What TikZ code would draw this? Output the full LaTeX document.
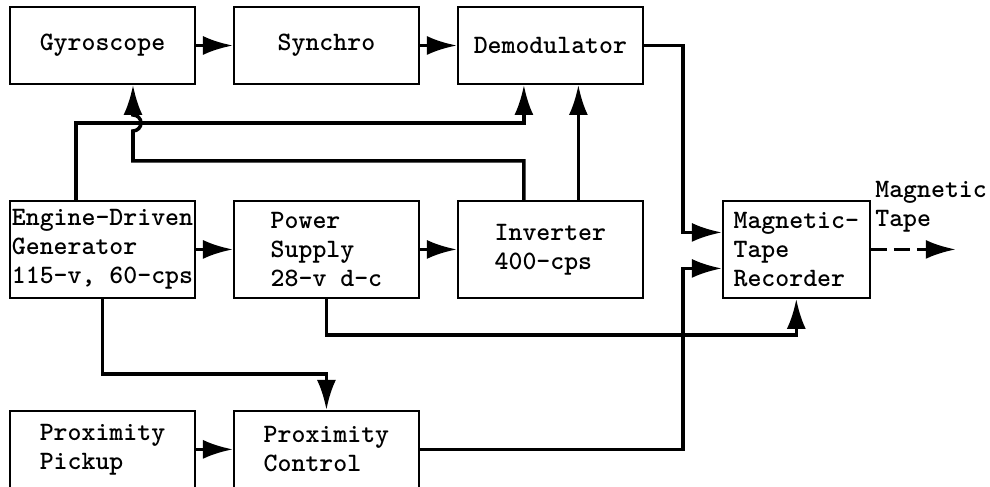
\documentclass[tikz,border=0pt]{standalone}
\usetikzlibrary{positioning,arrows.meta}
\begin{document}
\begin{tikzpicture}[
        node distance=2.3cm and 0.74cm,     % vertical and horizontal gaps
        >={Latex[length=6mm,width=3.8mm]},  % arrow style
        every node/.style={font=\ttfamily\bfseries\fontsize{15.1}{16.5}\selectfont},
        box/.style={draw, line width=1.1pt, rectangle, minimum width=3.7cm, minimum height=1.54cm, inner sep=1pt, align=left},
        tall/.style={box, minimum height=1.94cm},
        wire/.style={->, line width=2pt}
    ]
    \useasboundingbox (0,0) rectangle (19.8,-9.74);

    % top row
    \node[box] (gyro) at (2.05,-0.91) {Gyroscope};
    \node[box, right=of gyro] (syn) {Synchro};
    \node[box, right=of syn] (demod) {Demodulator};

    % middle row
    \node[tall, below=of gyro] (gen) {Engine-Driven\\Generator\\115-v, 60-cps};
    \node[tall, right=of gen] (pwr) {Power\\Supply\\28-v d-c};
    \node[tall, right=of pwr] (inv) {Inverter\\400-cps};
    \node[tall, minimum width=2.94cm, right=1.56cm of inv] (mtr) {Magnetic-\\Tape\\Recorder};

    % bottom row
    \node[box, below=2.22cm of gen] (ppick) {Proximity\\Pickup};
    \node[box, right=of ppick] (pctrl) {Proximity\\Control};

    % output
    \node[anchor=north west, align=left, inner sep=0pt] (tape) at (17.5,-3.62) {Magnetic\\Tape};
    \coordinate[right=1.7cm of mtr.east] (tapeend);
    \coordinate[right=0.78cm of inv.east] (bus);

    % straight links
    \draw[wire] (gyro) -- (syn);
    \draw[wire] (syn) -- (demod);
    \draw[wire] (gen) -- (pwr);
    \draw[wire] (pwr) -- (inv);
    \draw[wire] (ppick) -- (pctrl);
    \draw[wire] ([xshift=5.6mm]inv.north) -- ([xshift=5.6mm]demod.south);

    % routed links
    \draw[wire] ([xshift=13.4mm]gen.north west) |- ([xshift=13.4mm,yshift=-7.6mm]demod.south west) -- ([xshift=13.4mm]demod.south west);
    \draw[wire] ([xshift=13.4mm]inv.north west) |- ([xshift=6.1mm,yshift=-15.2mm]gyro.south) -- ([xshift=6.1mm,yshift=-9.2mm]gyro.south) arc[start angle=-90, end angle=90, radius=1.6mm] -- ([xshift=6.1mm]gyro.south);
    \draw[wire] (demod.east) -| ([yshift=3.4mm]bus) -- ([yshift=3.4mm]mtr.west);
    \draw[wire] (pctrl.east) -| ([yshift=-3.8mm]bus) -- ([yshift=-3.8mm]mtr.west);
    \draw[wire] (pwr.south) -- ++(0,-0.72) -| (mtr.south);
    \draw[wire] (gen.south) -- ++(0,-1.5) -| (pctrl.north);
    \draw[wire, dash pattern=on 3.2mm off 1.4mm] (mtr.east) -- (tapeend);

\end{tikzpicture}
\end{document}
